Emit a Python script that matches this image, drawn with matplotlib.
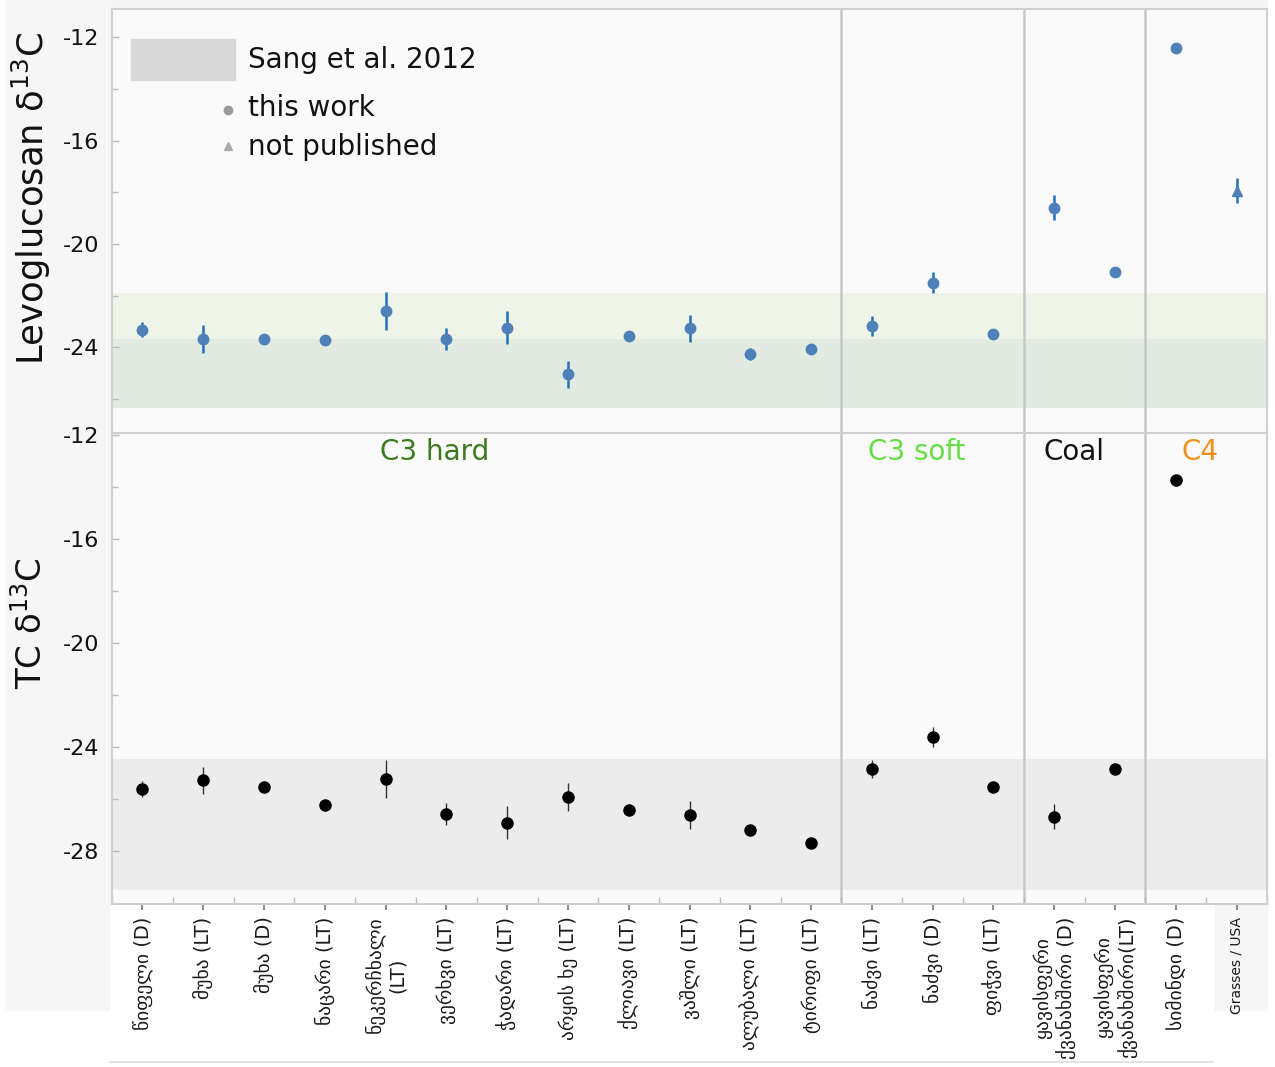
import numpy as np
import matplotlib
matplotlib.use("Agg")
import matplotlib.pyplot as plt
from matplotlib.patches import Rectangle
from matplotlib.lines import Line2D
from matplotlib.transforms import blended_transform_factory

plt.rcParams['font.family'] = ['DejaVu Sans']

# ---- data -------------------------------------------------------------
samples = ["წიფელი (D)", "მუხა (LT)", "მუხა (D)", "ნაცარი (LT)",
           "ნეკერჩხალი\n(LT)", "ვერხვი (LT)", "ჭადარი (LT)", "არყის ხე (LT)",
           "ქლიავი (LT)", "ვაშლი (LT)", "ალუბალი (LT)", "ტირიფი (LT)",
           "ნაძვი (LT)", "ნაძვი (D)", "ფიჭვი (LT)",
           "ყავისფერი\nქვანახშირი (D)", "ყავისფერი\nქვანახშირი(LT)",
           "სიმინდი (D)", "Grasses / USA"]

# Levoglucosan delta13C (per mil) and its uncertainty
levo = [-23.32, -23.67, -23.67, -23.72, -22.58, -23.67, -23.23, -25.04,
        -23.54, -23.26, -24.25, -24.06, -23.17, -21.49, -23.49, -18.59,
        -21.07, -12.41, -17.93]
levo_err = [0.29, 0.53, 0.0, 0.20, 0.74, 0.42, 0.65, 0.53,
            0.0, 0.53, 0.23, 0.0, 0.37, 0.39, 0.0, 0.48,
            0.0, 0.0, 0.50]

# Total carbon delta13C (per mil) and its uncertainty
tc = [-25.63, -25.29, -25.56, -26.24, -25.24, -26.60, -26.92, -25.92,
      -26.45, -26.63, -27.20, -27.72, -24.86, -23.62, -25.54, -26.69,
      -24.87, -13.74, np.nan]
tc_err = [0.32, 0.51, 0.0, 0.20, 0.74, 0.42, 0.63, 0.54,
          0.0, 0.55, 0.20, 0.0, 0.35, 0.38, 0.0, 0.49,
          0.0, 0.0, 0.0]

# literature ranges (Sang et al. 2012)
levo_band_c3 = (-21.9, -26.35)
levo_band_sang = (-23.67, -26.35)
tc_band_sang = (-24.47, -29.51)

groups = ["C3 hard", "C3 soft", "Coal", "C4"]
group_x = [4.81, 12.74, 15.32, 17.4]
group_colors = ["#3b7a1e", "#66dd44", "#111111", "#f0901a"]
group_breaks = [11.5, 14.5, 16.5]

# ---- figure -----------------------------------------------------------
W, H = 1275, 1067
fig = plt.figure(figsize=(W / 100, H / 100), dpi=100, facecolor="white")


def fx(px):
    return px / W


def fy(py):
    return 1 - py / H


# soft grey backdrop and white strip under the category labels
fig.patches.append(Rectangle((fx(5), fy(1010)), fx(1262), 1010 / H,
                             transform=fig.transFigure, color="#f6f6f6", zorder=-5))
fig.patches.append(Rectangle((fx(110), fy(1062)), fx(1103), 157 / H,
                             transform=fig.transFigure, color="white", zorder=-4))
fig.lines.append(Line2D([fx(110), fx(1213)], [fy(1062), fy(1062)],
                        transform=fig.transFigure, color="#dddddd", lw=1.2))

left, width = fx(112), fx(1155)
ax1 = fig.add_axes([left, fy(433), width, 424 / H])
ax2 = fig.add_axes([left, fy(904), width, 471 / H])

x = np.arange(len(samples))
spine_c = "#cfcfcf"

for ax in (ax1, ax2):
    ax.set_facecolor("#fafafb")
    ax.set_xlim(-0.5, len(samples) - 0.5)
    for s in ax.spines.values():
        s.set_color(spine_c)
        s.set_linewidth(1.5)
    for b in group_breaks:
        ax.axvline(b, color="#c8c8c8", lw=1.8, zorder=1)
    ax.tick_params(axis="y", direction="in", length=5, width=1, color="#bbbbbb",
                   labelsize=16, pad=9, labelcolor="#111111")
    ax.tick_params(axis="y", which="minor", direction="in", length=4, width=1,
                   color="#bbbbbb")

# top panel: levoglucosan
ax1.set_ylim(-27.31, -10.905)
ax1.set_yticks([-12, -16, -20, -24])
ax1.set_yticks([-14, -18, -22, -26], minor=True)
ax1.set_yticklabels(["-12", "-16", "-20", "-24"])
ax1.axhspan(*levo_band_c3, color="#eef4e8", zorder=0, lw=0)
ax1.axhspan(*levo_band_sang, color="#e1ebe1", zorder=0, lw=0)
ax1.set_xticks([])
ax1.spines["bottom"].set_visible(False)

levo = np.array(levo)
levo_err = np.array(levo_err)
ax1.errorbar(x[:-1], levo[:-1], yerr=levo_err[:-1], fmt="o", ms=7.5,
             color="#4f81b9", mec="#4f81b9", ecolor="#2471b8", elinewidth=1.8,
             capsize=0, zorder=3)
ax1.errorbar(x[-1:], levo[-1:], yerr=levo_err[-1:], fmt="^", ms=6.5,
             color="#4f81b9", mec="#4f81b9", ecolor="#2471b8", elinewidth=1.8,
             capsize=0, zorder=3)

# bottom panel: total carbon
ax2.set_ylim(-30.05, -11.93)
ax2.set_yticks([-12, -16, -20, -24, -28])
ax2.set_yticks([-14, -18, -22, -26], minor=True)
ax2.set_yticklabels(["-12", "-16", "-20", "-24", "-28"])
ax2.axhspan(*tc_band_sang, color="#ececec", zorder=0, lw=0)
ax2.spines["top"].set_color(spine_c)

tc = np.array(tc)
tc_err = np.array(tc_err)
ax2.errorbar(x, tc, yerr=tc_err, fmt="o", ms=8, color="black", mec="black",
             ecolor="#333333", elinewidth=1.0, capsize=0, zorder=3)

ax2.set_xticks(x)
ax2.set_xticks(np.arange(-0.5, len(samples)), minor=True)
ax2.set_xticklabels(samples, rotation=90, fontsize=14, color="#1a1a1a",
                    multialignment="center", va="top", ha="center",
                    linespacing=1.25)
ax2.get_xticklabels()[-1].set_fontsize(10)
ax2.tick_params(axis="x", direction="out", length=4, width=1.2, color="#777777",
                pad=5)
ax2.tick_params(axis="x", which="minor", direction="in", length=5, width=1,
                color="#bbbbbb")

trans = blended_transform_factory(ax2.transData, ax2.transAxes)
for name, gx, gc in zip(groups, group_x, group_colors):
    ax2.text(gx, 0.96, name, transform=trans, ha="center", va="center",
             fontsize=20, color=gc)

# axis titles
fig.text(fx(31), fy(199), "Levoglucosan δ$^{\\mathregular{13}}$C", rotation=90,
         ha="center", va="center", fontsize=25.5, color="#111111")
fig.text(fx(31), fy(623), "TC δ$^{\\mathregular{13}}$C", rotation=90,
         ha="center", va="center", fontsize=24.5, color="#111111")

# key
fig.patches.append(Rectangle((fx(131), fy(80)), fx(104), 41 / H,
                             transform=fig.transFigure, color="#d9d9d9", zorder=5))
fig.lines.append(Line2D([fx(228)], [fy(110)], marker="o", ms=6, color="#999999",
                        ls="none", transform=fig.transFigure))
fig.lines.append(Line2D([fx(228)], [fy(146)], marker="^", ms=6, color="#aaaaaa",
                        ls="none", transform=fig.transFigure))
fig.text(fx(248), fy(60), "Sang et al. 2012", fontsize=20, va="center",
         color="#111111")
fig.text(fx(248), fy(108), "this work", fontsize=20, va="center", color="#111111")
fig.text(fx(248), fy(147), "not published", fontsize=20, va="center",
         color="#111111")

fig.savefig("out.png", dpi=100, facecolor="white")
